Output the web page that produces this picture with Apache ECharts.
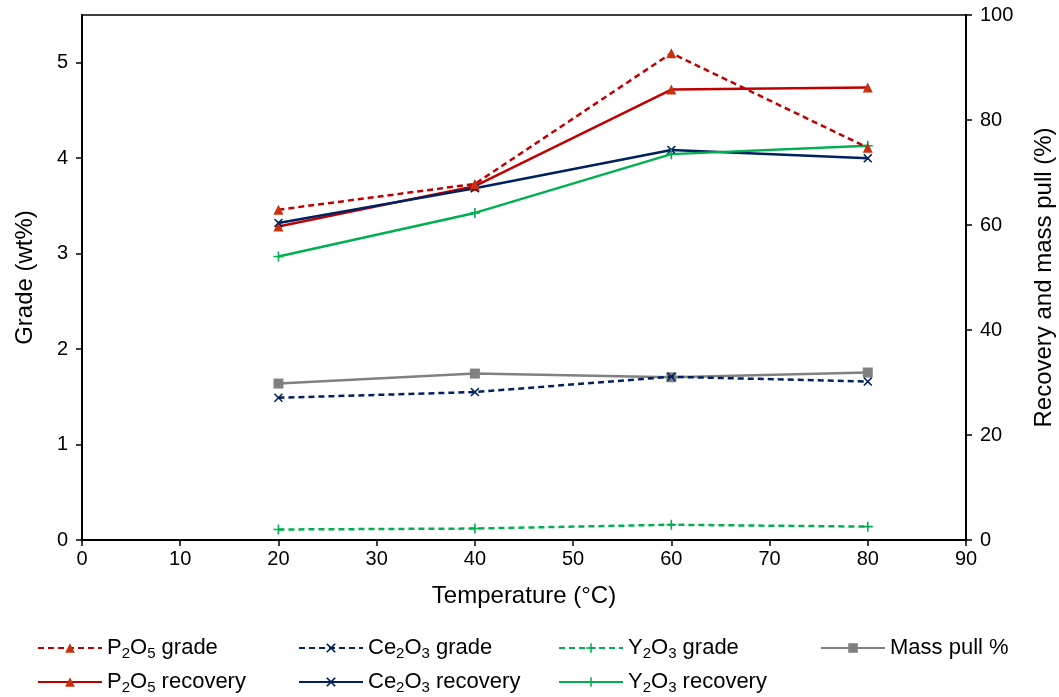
<!DOCTYPE html>
<html>
<head>
<meta charset="utf-8">
<script src="https://cdn.jsdelivr.net/npm/echarts@6/dist/echarts.min.js"></script>
<style>
  html, body { margin: 0; padding: 0; background: #fff; }
  #chart { width: 1059px; height: 697px; }
</style>
</head>
<body>
<div id="chart"></div>
<script>
// Flotation results versus pulp temperature
const temperatures = [20, 40, 60, 80];

// grades (wt%), left axis
const p2o5Grade = [3.46, 3.73, 5.10, 4.11];
const ce2o3Grade = [1.49, 1.55, 1.71, 1.66];
const y2o3Grade = [0.11, 0.12, 0.16, 0.14];

// recoveries and mass pull (%), right axis
const massPull = [29.8, 31.7, 31.0, 31.9];
const p2o5Recovery = [59.7, 67.4, 85.8, 86.2];
const ce2o3Recovery = [60.4, 67.0, 74.3, 72.7];
const y2o3Recovery = [54.0, 62.3, 73.5, 75.1];

const leftTicks = [0, 1, 2, 3, 4, 5];
const rightTicks = [0, 20, 40, 60, 80, 100];
const xTicks = [0, 10, 20, 30, 40, 50, 60, 70, 80, 90];

const RED = '#C00000', RED_MARK = '#C8300E', NAVY = '#002060', GREEN = '#00B050', GRAY = '#808080';
const FONT = '"Liberation Sans", Arial, sans-serif';
const TICK_SIZE = 20, NAME_SIZE = 24, LEGEND_SIZE = 22;

const CROSS = 'path://M0,1.2L1.2,0L5,3.8L8.8,0L10,1.2L6.2,5L10,8.8L8.8,10L5,6.2L1.2,10L0,8.8L3.8,5Z';
const PLUS = 'path://M4.2,0H5.8V4.2H10V5.8H5.8V10H4.2V5.8H0V4.2H4.2Z';

function pairs(vals) { return temperatures.map((t, i) => [t, vals[i]]); }

function series(name, vals, axis, color, dashed, symbol, size, markColor) {
  return {
    name, type: 'line', yAxisIndex: axis, data: pairs(vals),
    symbol, symbolSize: size,
    lineStyle: { color, width: 2.5, type: dashed ? [6, 4] : 'solid' },
    itemStyle: { color: markColor || color },
    emphasis: { disabled: true },
    animation: false,
    z: dashed ? 3 : 2
  };
}

const rich = {
  n: { fontFamily: FONT, fontSize: LEGEND_SIZE, color: '#000' },
  s: { fontFamily: FONT, fontSize: 15, color: '#000', verticalAlign: 'bottom', padding: [12, 0, 0, 0] }
};

// "P2O5 grade" -> rich text with subscripts
function fmt(name) {
  return name.replace(/([A-Za-z]+)(\d)/g, (m, a, d) => '{n|' + a + '}{s|' + d + '}')
             .replace(/\}([^{}]+)$/, '}{n|$1}')
             .replace(/^([^{]+)$/, '{n|$1}');
}

const legendPos = [
  ['P2O5 grade', 37, 637], ['Ce2O3 grade', 298, 637], ['Y2O3 grade', 558, 637], ['Mass pull %', 820, 637],
  ['P2O5 recovery', 37, 671], ['Ce2O3 recovery', 298, 671], ['Y2O3 recovery', 558, 671]
];

const legends = legendPos.map(([name, x, y]) => ({
  data: [name], left: x, top: y, itemWidth: 64, itemHeight: 12, itemGap: 10,
  padding: 0, selectedMode: false, formatter: fmt,
  textStyle: { rich, fontFamily: FONT, fontSize: LEGEND_SIZE, color: '#000' }
}));

const chart = echarts.init(document.getElementById('chart'), null, { renderer: 'canvas' });
chart.setOption({
  backgroundColor: '#fff',
  animation: false,
  textStyle: { fontFamily: FONT },
  legend: legends,
  grid: {
    left: 82, right: 93, top: 15, bottom: 157,
    containLabel: false, outerBoundsMode: 'none',
    show: true, borderColor: '#000', borderWidth: 1.5, backgroundColor: 'transparent'
  },
  xAxis: {
    type: 'value', min: 0, max: 90, interval: 10,
    name: 'Temperature (°C)', nameLocation: 'middle', nameGap: 44,
    nameTextStyle: { fontFamily: FONT, fontSize: NAME_SIZE, color: '#000' },
    axisLine: { show: true, lineStyle: { color: '#000', width: 2 } },
    axisTick: { show: true, inside: false, length: 6, lineStyle: { color: '#000', width: 1.5 } },
    axisLabel: { fontFamily: FONT, fontSize: TICK_SIZE, color: '#000', margin: 9, formatter: v => xTicks.includes(v) ? String(v) : '' },
    splitLine: { show: false }
  },
  yAxis: [
    {
      type: 'value', min: 0, max: 5.5, interval: 1, position: 'left',
      name: 'Grade (wt%)', nameLocation: 'middle', nameGap: 45, nameRotate: 90,
      nameTextStyle: { fontFamily: FONT, fontSize: NAME_SIZE, color: '#000' },
      axisLine: { show: true, lineStyle: { color: '#000', width: 2 } },
      axisTick: { show: true, length: 6, lineStyle: { color: '#000', width: 1.5 } },
      axisLabel: { fontFamily: FONT, fontSize: TICK_SIZE, color: '#000', margin: 14, showMaxLabel: false,
        formatter: v => leftTicks.includes(v) ? String(v) : '' },
      splitLine: { show: false }
    },
    {
      type: 'value', min: 0, max: 100, interval: 20, position: 'right',
      name: 'Recovery and mass pull (%)', nameLocation: 'middle', nameGap: 66, nameRotate: 90,
      nameTextStyle: { fontFamily: FONT, fontSize: NAME_SIZE, color: '#000' },
      axisLine: { show: true, lineStyle: { color: '#000', width: 2 } },
      axisTick: { show: true, length: 6, lineStyle: { color: '#000', width: 1.5 } },
      axisLabel: { fontFamily: FONT, fontSize: TICK_SIZE, color: '#000', margin: 14,
        formatter: v => rightTicks.includes(v) ? String(v) : '' },
      splitLine: { show: false }
    }
  ],
  series: [
    series('P2O5 grade', p2o5Grade, 0, RED, true, 'triangle', 10, RED_MARK),
    series('Ce2O3 grade', ce2o3Grade, 0, NAVY, true, CROSS, 9),
    series('Y2O3 grade', y2o3Grade, 0, GREEN, true, PLUS, 10),
    series('Mass pull %', massPull, 1, GRAY, false, 'rect', 10),
    series('P2O5 recovery', p2o5Recovery, 1, RED, false, 'triangle', 10, RED_MARK),
    series('Ce2O3 recovery', ce2o3Recovery, 1, NAVY, false, CROSS, 9),
    series('Y2O3 recovery', y2o3Recovery, 1, GREEN, false, PLUS, 10)
  ]
});
</script>
</body>
</html>
